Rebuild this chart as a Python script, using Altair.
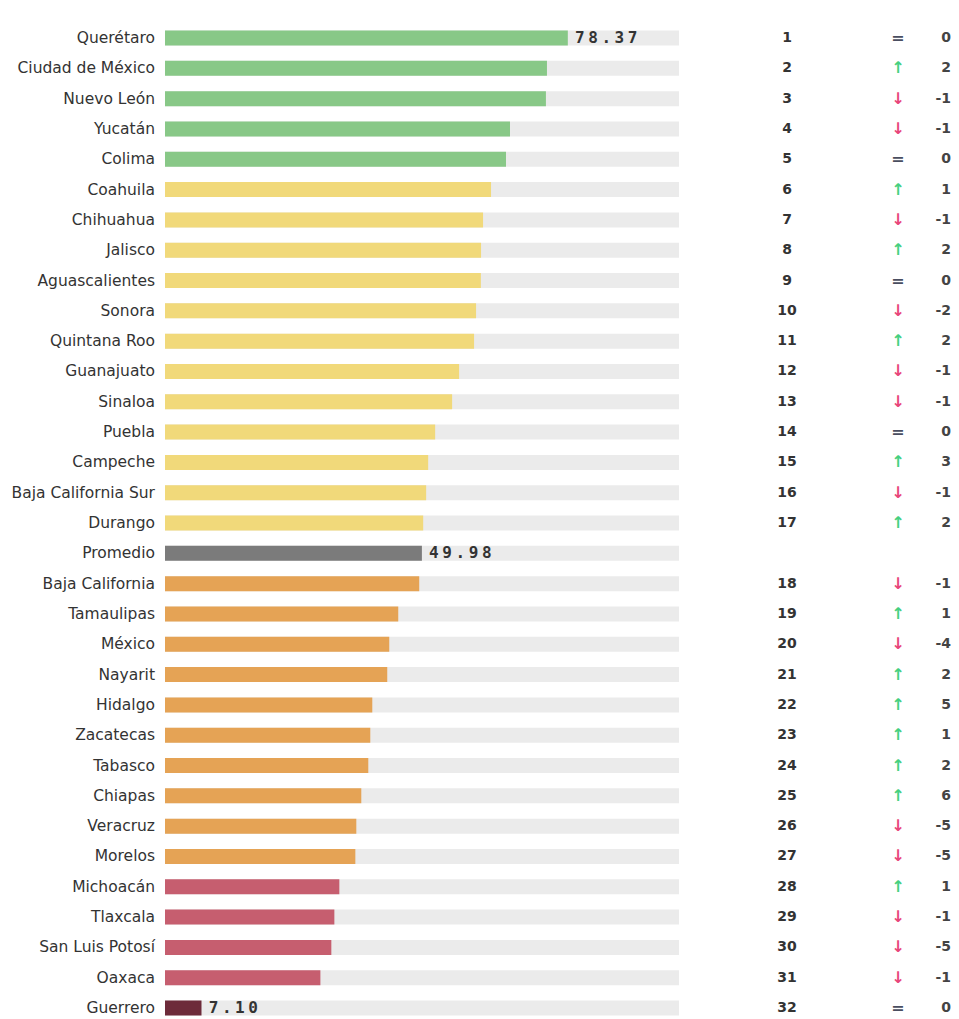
import altair as alt
import pandas as pd

states = ["Querétaro", "Ciudad de México", "Nuevo León", "Yucatán", "Colima",
          "Coahuila", "Chihuahua", "Jalisco", "Aguascalientes", "Sonora",
          "Quintana Roo", "Guanajuato", "Sinaloa", "Puebla", "Campeche",
          "Baja California Sur", "Durango", "Promedio", "Baja California",
          "Tamaulipas", "México", "Nayarit", "Hidalgo", "Zacatecas", "Tabasco",
          "Chiapas", "Veracruz", "Morelos", "Michoacán", "Tlaxcala",
          "San Luis Potosí", "Oaxaca", "Guerrero"]
scores = [78.37, 74.31, 74.11, 67.12, 66.34,
          63.43, 61.88, 61.49, 61.45, 60.52,
          60.13, 57.22, 55.86, 52.56, 51.20,
          50.81, 50.23, 49.98, 49.46,
          45.38, 43.63, 43.24, 40.33, 39.94, 39.55,
          38.19, 37.22, 37.03, 33.92, 32.95,
          32.36, 30.23, 7.10]
ranks = ["1", "2", "3", "4", "5", "6", "7", "8", "9", "10", "11", "12", "13",
         "14", "15", "16", "17", "", "18", "19", "20", "21", "22", "23", "24",
         "25", "26", "27", "28", "29", "30", "31", "32"]
changes = ["0", "2", "-1", "-1", "0", "1", "-1", "2", "0", "-2", "2", "-1", "-1",
           "0", "3", "-1", "2", "", "-1", "1", "-4", "2", "5", "1", "2",
           "6", "-5", "-5", "1", "-1", "-5", "-1", "0"]
groups = ["alto"] * 5 + ["medio-alto"] * 12 + ["promedio"] + ["medio-bajo"] * 10 + \
         ["bajo"] * 4 + ["muy bajo"]
labelled = ["Querétaro", "Promedio", "Guerrero"]

group_domain = ["alto", "medio-alto", "promedio", "medio-bajo", "bajo", "muy bajo"]
group_colors = ["#88c887", "#f1d97a", "#7b7b7b", "#e5a355", "#c65e6f", "#6d2b3a"]

def arrow_of(c):
    if c == "":
        return ("", "none")
    v = int(c)
    if v > 0:
        return ("↑", "sube")
    if v < 0:
        return ("↓", "baja")
    return ("=", "igual")

rows = []
for i, (s, v, r, c, g) in enumerate(zip(states, scores, ranks, changes, groups)):
    a, t = arrow_of(c)
    rows.append({"row": i, "state": s, "score": v, "rank": r, "change": c,
                 "group": g, "arrow": a, "atype": t})
df = pd.DataFrame(rows)

chars = []
for i, (s, v) in enumerate(zip(states, scores)):
    if s in labelled:
        txt = f"{v:.2f}"
        for j, ch in enumerate(txt):
            chars.append({"row": i, "score": v, "ch": ch, "idx": j})
cdf = pd.DataFrame(chars)

xs = alt.Scale(domain=[0, 100], nice=False, padding=0)
ys = alt.Scale(domain=[0, 32], reverse=True, nice=False, zero=False, padding=0)
Y = alt.Y("row:Q", scale=ys, axis=None)

base = alt.Chart(df)

track = base.mark_bar(size=15, color="#ebebeb").encode(
    x=alt.X(datum=0, scale=xs, axis=None), x2=alt.X2(datum=100), y=Y)

bars = base.mark_bar(size=15).encode(
    x=alt.X("score:Q", scale=xs, axis=None), x2=alt.X2(datum=0), y=Y,
    color=alt.Color("group:N", scale=alt.Scale(domain=group_domain, range=group_colors),
                    legend=None))

names = base.mark_text(align="right", baseline="middle", font="DejaVu Sans",
                       fontSize=15.5, color="#333333").encode(
    x=alt.value(-10), y=Y, text="state:N")

rank_t = base.mark_text(align="center", baseline="middle", font="DejaVu Sans",
                        fontSize=14, fontWeight="bold", color="#333333").encode(
    x=alt.value(622), y=Y, text="rank:N")

arrow_t = base.mark_text(align="center", baseline="middle", font="DejaVu Sans",
                         fontSize=16, fontWeight="bold").encode(
    x=alt.value(733), y=Y, text="arrow:N",
    color=alt.Color("atype:N", scale=alt.Scale(domain=["sube", "baja", "igual", "none"],
                                               range=["#45d07f", "#e8467a", "#4a4e60", "#ffffff"]),
                    legend=None))

diff_t = base.mark_text(align="right", baseline="middle", font="DejaVu Sans",
                        fontSize=14, fontWeight="bold", color="#444444").encode(
    x=alt.value(786), y=Y, text="change:N")

vals = alt.Chart(cdf).transform_calculate(
    xp="datum.score + (12 + datum.idx * 13.2) / 5.14"
).mark_text(align="center", baseline="middle", font="DejaVu Sans Mono",
            fontSize=16, fontWeight="bold", color="#333333").encode(
    x=alt.X("xp:Q", scale=xs, axis=None), y=Y, text="ch:N")

chart = alt.layer(track, bars, names, rank_t, arrow_t, diff_t, vals).resolve_scale(
    color="independent"
).properties(
    width=514, height=970,
    padding={"left": 157, "top": 30, "right": 272, "bottom": 9},
    autosize="none",
).configure_view(stroke=None)

chart.save("out.html", embed_options={"renderer": "svg", "actions": False})
